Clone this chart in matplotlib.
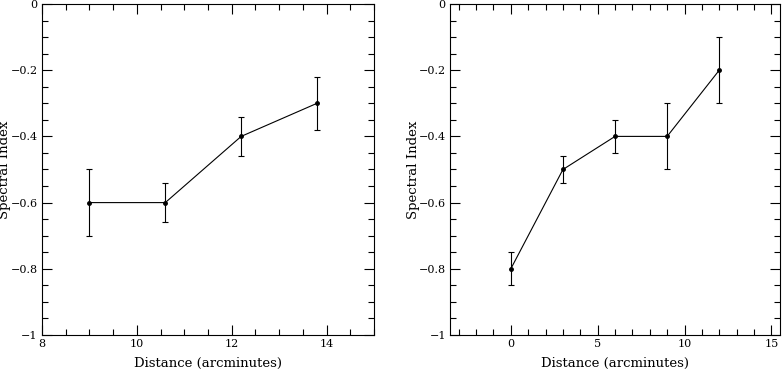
import matplotlib
matplotlib.use("Agg")
import matplotlib.pyplot as plt
from matplotlib.ticker import MultipleLocator

# left panel
dist_a = [9, 10.6, 12.2, 13.8]
index_a = [-0.6, -0.6, -0.4, -0.3]
err_a = [0.1, 0.06, 0.06, 0.08]

# right panel
dist_b = [0, 3, 6, 9, 12]
index_b = [-0.8, -0.5, -0.4, -0.4, -0.2]
err_b = [0.05, 0.04, 0.05, 0.1, 0.1]

plt.rcParams['font.family'] = ['DejaVu Serif']

fig = plt.figure(figsize=(7.82, 3.70), dpi=100)
ax1 = fig.add_axes([0.0537, 0.0946, 0.4245, 0.8946])
ax2 = fig.add_axes([0.5755, 0.0946, 0.4220, 0.8946])


def panel(ax, x, y, e, xlim, xmaj, xmin):
    ax.errorbar(x, y, yerr=e, color='black', lw=0.8, elinewidth=0.8,
                capsize=2, capthick=0.8, marker='o', ms=2.5)
    ax.set_xlim(*xlim)
    ax.set_ylim(-1, 0)
    ax.xaxis.set_major_locator(MultipleLocator(xmaj))
    ax.xaxis.set_minor_locator(MultipleLocator(xmin))
    ax.yaxis.set_major_locator(MultipleLocator(0.2))
    ax.yaxis.set_minor_locator(MultipleLocator(0.05))
    ax.tick_params(which='both', direction='in', top=True, right=True,
                   labelsize=8, width=0.8)
    ax.tick_params(which='major', length=7)
    ax.tick_params(which='minor', length=4)
    ax.tick_params(axis='y', pad=3)
    ax.tick_params(axis='x', pad=3)
    ax.set_yticks([-1, -0.8, -0.6, -0.4, -0.2, 0])
    ax.set_yticklabels(['\u22121', '\u22120.8', '\u22120.6', '\u22120.4', '\u22120.2', '0'])
    for s in ax.spines.values():
        s.set_linewidth(0.8)
    ax.set_xlabel('Distance (arcminutes)', fontsize=9.5)
    ax.set_ylabel('Spectral Index', fontsize=9.5)
    ax.xaxis.set_label_coords(0.5, -0.066)
    ax.yaxis.set_label_coords(-0.092, 0.5)


panel(ax1, dist_a, index_a, err_a, (8, 15), 2, 0.5)
panel(ax2, dist_b, index_b, err_b, (-3.5, 15.5), 5, 1)

fig.savefig('out.png', dpi=100)
